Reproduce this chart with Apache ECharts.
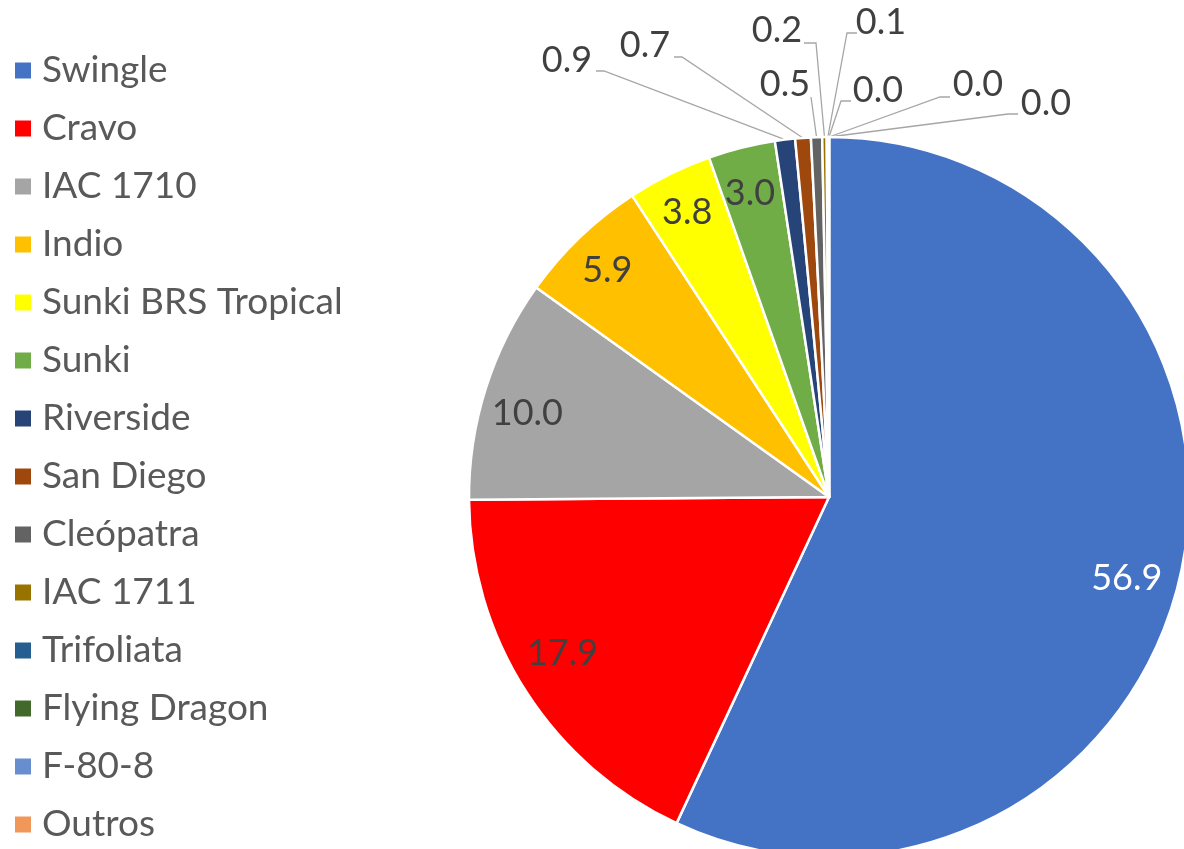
<!DOCTYPE html>
<html>
<head>
<meta charset="utf-8">
<script src="https://cdn.jsdelivr.net/npm/echarts@6/dist/echarts.min.js"></script>
<style>
  html, body { margin: 0; padding: 0; background: #ffffff; }
  #chart { width: 1184px; height: 849px; }
</style>
</head>
<body>
<div id="chart"></div>
<script>
// Rootstock shares (%)
const categories = ['Swingle', 'Cravo', 'IAC 1710', 'Indio', 'Sunki BRS Tropical', 'Sunki',
  'Riverside', 'San Diego', 'Cleópatra', 'IAC 1711', 'Trifoliata', 'Flying Dragon', 'F-80-8', 'Outros'];
const shares = [56.9, 17.9, 10.0, 5.9, 3.8, 3.0, 0.9, 0.7, 0.5, 0.2, 0.1, 0.0, 0.0, 0.0];
const colors = ['#4472C4', '#FF0000', '#A5A5A5', '#FFC000', '#FFFF00', '#70AD47', '#264478',
  '#9E480E', '#636363', '#997300', '#255E91', '#43682B', '#698ED0', '#F1975A'];

// Pie geometry in pixels
const CX = 829, CY = 497, R = 360;
const INNER_LABEL_RATIO = 0.87;   // inside labels sit near the rim
const CALLOUT_BELOW = 1;          // thinner slices get an outside callout

// Small hand adjustments of the inside labels, keyed by slice index
const insideNudge = {
  0: [-8, 13],
  1: [-3, -13],
  2: [-3, 11],
  3: [-5, 0],
  4: [-3, -4],
  5: [-3, 0]
};

// Callout placement for the thin slices (label centre, leader start, elbow), keyed by slice index
const callouts = {
  6:  { at: [567, 60],  from: [596, 71],  elbow: [604, 71] },
  7:  { at: [645, 45],  from: [674, 57],  elbow: [682, 57] },
  8:  { at: [785, 84],  from: [811, 97],  elbow: [811, 97] },
  9:  { at: [777, 30],  from: [804, 43],  elbow: [816, 43] },
  10: { at: [881, 22],  from: [857, 33],  elbow: [847, 33] },
  11: { at: [878, 90],  from: [851, 101], elbow: [841, 101] },
  12: { at: [978, 84],  from: [950, 97],  elbow: [940, 97] },
  13: { at: [1046, 103], from: [1018, 114], elbow: [1008, 114] }
};

const FONT = 'Lato';

const pieData = categories.map(function (name, i) {
  const item = { name: name, value: shares[i], itemStyle: { color: colors[i] } };
  if (shares[i] < CALLOUT_BELOW) {
    item.label = { position: 'outside' };
    item.labelLine = { show: true };
  }
  if (i === 0) {
    item.label = { color: '#FFFFFF' };
  }
  return item;
});

const chart = echarts.init(document.getElementById('chart'), null, { renderer: 'canvas' });

chart.setOption({
  animation: false,
  backgroundColor: '#FFFFFF',
  legend: {
    orient: 'vertical',
    left: 8,
    top: 47,
    height: 900,
    itemWidth: 18,
    itemHeight: 18,
    itemGap: 21,
    icon: 'rect',
    data: categories,
    textStyle: {
      fontFamily: FONT,
      fontSize: 37,
      lineHeight: 37,
      color: '#595959',
      padding: [0, 0, 0, 5]
    }
  },
  series: [{
    type: 'pie',
    center: [CX, CY],
    radius: [0, R],
    startAngle: 90,
    clockwise: true,
    avoidLabelOverlap: false,
    itemStyle: { borderColor: '#FFFFFF', borderWidth: 2.5 },
    label: {
      show: true,
      position: 'inside',
      fontFamily: FONT,
      fontSize: 36,
      color: '#404040',
      formatter: function (p) { return p.value.toFixed(1); }
    },
    labelLine: {
      show: false,
      lineStyle: { color: '#A6A6A6', width: 1.3 }
    },
    emphasis: { disabled: true },
    labelLayout: function (p) {
      const c = callouts[p.dataIndex];
      if (c) {
        const edge = p.labelLinePoints ? p.labelLinePoints[0] : [CX, CY - R];
        return {
          x: c.at[0], y: c.at[1], align: 'center', verticalAlign: 'middle',
          labelLinePoints: [edge, c.elbow, c.from]
        };
      }
      const lx = p.labelRect.x + p.labelRect.width / 2;
      const ly = p.labelRect.y + p.labelRect.height / 2;
      const dx = lx - CX, dy = ly - CY;
      const d = Math.hypot(dx, dy) || 1;
      const n = insideNudge[p.dataIndex] || [0, 0];
      return {
        x: CX + dx / d * INNER_LABEL_RATIO * R + n[0],
        y: CY + dy / d * INNER_LABEL_RATIO * R + n[1],
        align: 'center', verticalAlign: 'middle'
      };
    },
    data: pieData
  }]
});
</script>
</body>
</html>
